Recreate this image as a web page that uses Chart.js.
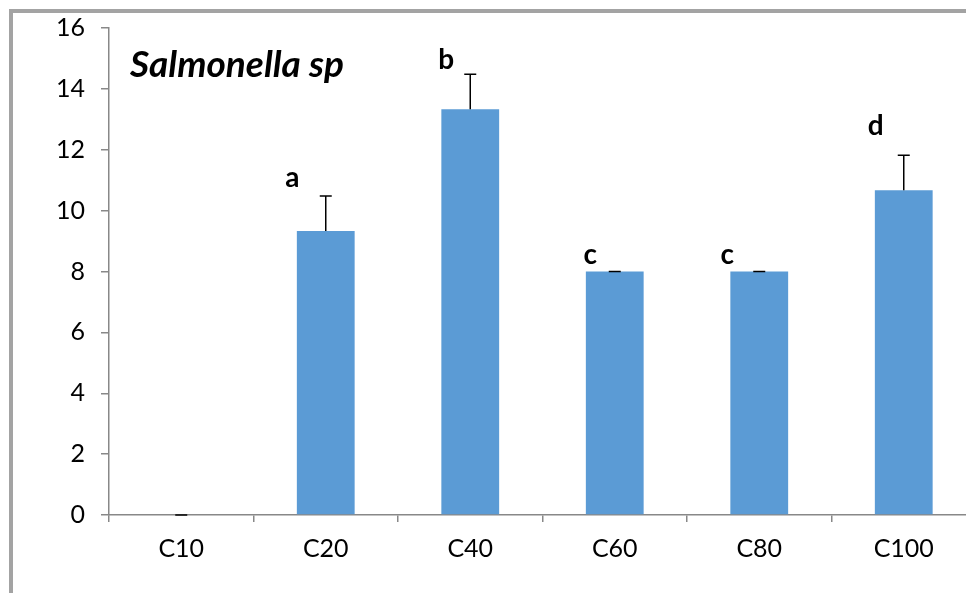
<!DOCTYPE html>
<html>
<head>
<meta charset="utf-8">
<script src="https://cdn.jsdelivr.net/npm/chart.js@4.4.1/dist/chart.umd.min.js"></script>
<style>
html,body{margin:0;padding:0;background:#fff;overflow:hidden;width:966px;height:593px}
#wrap{position:absolute;left:0;top:0;width:1000px;height:593px}
#frame{position:absolute;left:9px;top:9px;width:1100px;height:700px;border-left:4px solid #a3a3a3;border-top:4px solid #a3a3a3;pointer-events:none}
#title{position:absolute;left:130px;top:40px;font:italic bold 37px Lato,"Open Sans",sans-serif;color:#000}
</style>
</head>
<body>
<div id="wrap"><canvas id="c" width="1000" height="593"></canvas></div>
<div id="frame"></div>
<div id="title">Salmonella sp</div>
<script>
// DATA
const cats=['C10','C20','C40','C60','C80','C100'];
const means=[0,9.33,13.33,8,8,10.67];
const errs=[0,1.15,1.15,0,0,1.15];
const letters=['','a','b','c','c','d'];
const yTicks=[0,2,4,6,8,10,12,14,16];

const AX='#888888';
const FONT='Lato, "Open Sans", sans-serif';

// error bars (upper only, with cap)
const errPlugin={
  id:'errBars',
  afterDatasetsDraw(ch){
    const x=ch.scales.x,y=ch.scales.y,ctx=ch.ctx;
    ctx.save();ctx.strokeStyle='#000';ctx.lineWidth=1.5;
    means.forEach((m,i)=>{
      const px=x.getPixelForValue(i),y0=y.getPixelForValue(m),y1=y.getPixelForValue(m+errs[i]);
      ctx.beginPath();ctx.moveTo(px,y0);ctx.lineTo(px,y1);
      ctx.moveTo(px-6,y1);ctx.lineTo(px+6,y1);ctx.stroke();
    });
    ctx.restore();
  }
};
// significance letters
const letterPlugin={
  id:'letters',
  afterDatasetsDraw(ch,args,opts){
    const x=ch.scales.x,y=ch.scales.y,ctx=ch.ctx;
    ctx.save();ctx.fillStyle='#000';ctx.font='bold 28px '+FONT;
    ctx.textAlign='center';ctx.textBaseline='alphabetic';
    letters.forEach((t,i)=>{
      if(!t)return;
      const o=opts.off[i];
      ctx.fillText(t,x.getPixelForValue(i)+o[0],y.getPixelForValue(means[i]+errs[i])+o[1]);
    });
    ctx.restore();
  }
};

new Chart(document.getElementById('c'),{
  type:'bar',
  data:{labels:cats,datasets:[{data:means,backgroundColor:'#5b9bd5',borderWidth:0,barPercentage:1,categoryPercentage:0.4}]},
  options:{
    responsive:false,animation:false,
    layout:{padding:{left:0,top:28,right:24,bottom:0}},
    plugins:{legend:{display:false},tooltip:{enabled:false},
      letters:{off:[[0,0],[-33.5,-9],[-24,-5],[-24.5,-7.5],[-32,-7.5],[-28,-20]]}},
    scales:{
      x:{offset:true,
        grid:{offset:true,drawOnChartArea:false,tickLength:7,color:AX,lineWidth:1.5},
        border:{color:AX,width:1.5},
        ticks:{color:'#000',font:{family:FONT,size:25},padding:12,maxRotation:0},
        afterFit:s=>{s.height=78}},
      y:{min:0,max:16,
        afterBuildTicks:s=>{s.ticks=yTicks.map(v=>({value:v}))},
        grid:{drawOnChartArea:false,tickLength:8,color:AX,lineWidth:1.5},
        border:{color:AX,width:1.5},
        ticks:{color:'#000',font:{family:FONT,size:25},padding:16},
        afterFit:s=>{s.width=109;s.paddingTop=0;s.paddingBottom=0}}
    }
  },
  plugins:[errPlugin,letterPlugin]
});
</script>
</body>
</html>
